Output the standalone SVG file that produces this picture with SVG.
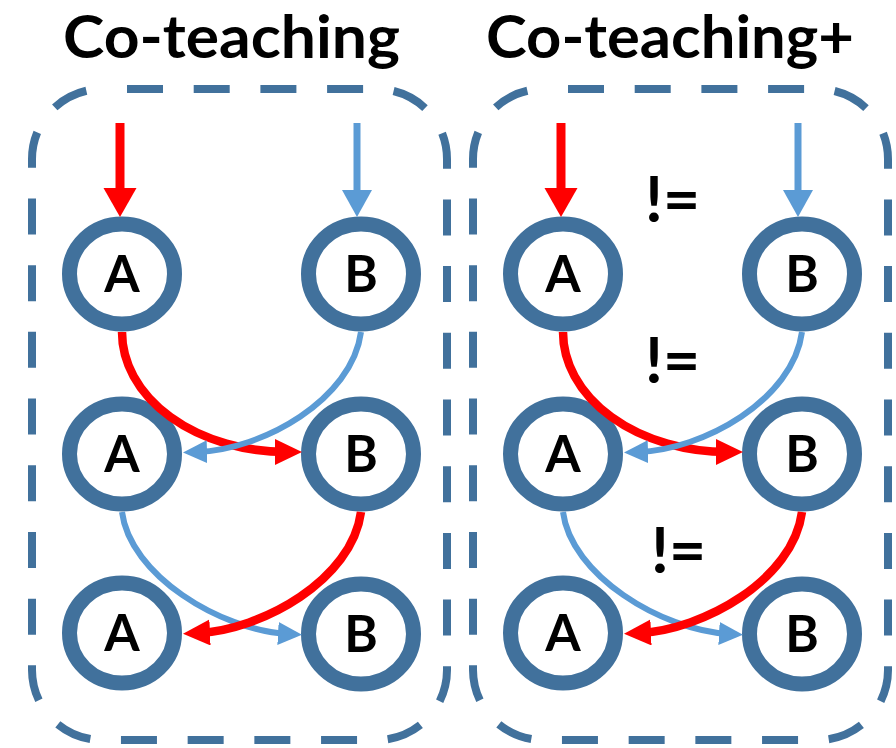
<svg xmlns="http://www.w3.org/2000/svg" width="896" height="748" viewBox="0 0 896 748">
<style>
.frame{fill:none;stroke:#41719C;stroke-width:8;stroke-dasharray:36 30.7;stroke-dashoffset:-25}
.ring{fill:#fff;stroke:#41719C;stroke-width:15}
.lbl{font-family:Lato,"Open Sans",sans-serif;font-weight:700;font-size:51px;fill:#000;text-anchor:middle}
.title{font-family:Lato,"Open Sans",sans-serif;font-weight:700;font-size:60px;fill:#000}
.ne{font-family:Lato,"Open Sans",sans-serif;font-weight:700;font-size:64px;fill:#000}
.red{fill:none;stroke:#FF0000;stroke-width:8.5}
.blue{fill:none;stroke:#5B9BD5;stroke-width:6}
.redin{fill:none;stroke:#FF0000;stroke-width:9}
.bluein{fill:none;stroke:#5B9BD5;stroke-width:7}
</style>
<defs>
<marker id="ri" markerUnits="userSpaceOnUse" markerWidth="30" markerHeight="34" refX="14" refY="16.5" orient="auto"><path d="M0,0 L29,16.5 L0,33 z" fill="#FF0000"/></marker>
<marker id="bi" markerUnits="userSpaceOnUse" markerWidth="28" markerHeight="31" refX="12" refY="15" orient="auto"><path d="M0,0 L27,15 L0,30 z" fill="#5B9BD5"/></marker>
<marker id="rc" markerUnits="userSpaceOnUse" markerWidth="28" markerHeight="27" refX="12" refY="13" orient="auto"><path d="M0,0 L27,13 L0,26 z" fill="#FF0000"/></marker>
<marker id="bc" markerUnits="userSpaceOnUse" markerWidth="25" markerHeight="24" refX="10" refY="11.5" orient="auto"><path d="M0,0 L24,11.5 L0,23 z" fill="#5B9BD5"/></marker>
</defs>
<g id="titles">
<text class="title" x="63" y="58" textLength="337" lengthAdjust="spacingAndGlyphs">Co-teaching</text>
<text class="title" x="486" y="58" textLength="368" lengthAdjust="spacingAndGlyphs">Co-teaching+</text>
</g>
<g id="frames">
<rect class="frame" x="32" y="89" width="415" height="651" rx="70" ry="70"/>
<rect class="frame" x="473" y="89" width="415" height="651" rx="70" ry="70"/>
</g>
<g id="nodes">
<g id="L-A1"><ellipse class="ring" cx="122" cy="274" rx="52.5" ry="50"/><text class="lbl" x="122" y="292">A</text></g>
<g id="L-B1"><ellipse class="ring" cx="361" cy="274" rx="52.5" ry="50"/><text class="lbl" x="361" y="292">B</text></g>
<g id="L-A2"><ellipse class="ring" cx="122" cy="454" rx="52.5" ry="50"/><text class="lbl" x="122" y="472">A</text></g>
<g id="L-B2"><ellipse class="ring" cx="361" cy="454" rx="52.5" ry="50"/><text class="lbl" x="361" y="472">B</text></g>
<g id="L-A3"><ellipse class="ring" cx="122" cy="633" rx="52.5" ry="50"/><text class="lbl" x="122" y="651">A</text></g>
<g id="L-B3"><ellipse class="ring" cx="361" cy="634" rx="52.5" ry="50"/><text class="lbl" x="361" y="652">B</text></g>
<g id="R-A1"><ellipse class="ring" cx="563" cy="274" rx="52.5" ry="50"/><text class="lbl" x="563" y="292">A</text></g>
<g id="R-B1"><ellipse class="ring" cx="802" cy="274" rx="52.5" ry="50"/><text class="lbl" x="802" y="292">B</text></g>
<g id="R-A2"><ellipse class="ring" cx="563" cy="454" rx="52.5" ry="50"/><text class="lbl" x="563" y="472">A</text></g>
<g id="R-B2"><ellipse class="ring" cx="802" cy="454" rx="52.5" ry="50"/><text class="lbl" x="802" y="472">B</text></g>
<g id="R-A3"><ellipse class="ring" cx="563" cy="633" rx="52.5" ry="50"/><text class="lbl" x="563" y="651">A</text></g>
<g id="R-B3"><ellipse class="ring" cx="802" cy="634" rx="52.5" ry="50"/><text class="lbl" x="802" y="652">B</text></g>
</g>
<g id="connectors">
<g id="left-conn">
<path class="redin" d="M120,123 V202" marker-end="url(#ri)"/>
<path class="bluein" d="M357,123 V202" marker-end="url(#bi)"/>
<path class="red" d="M122,332 A165,120 0 0 0 287,452" marker-end="url(#rc)"/>
<path class="blue" d="M361,332 C352,400 262,450 197,452" marker-end="url(#bc)"/>
<path class="blue" d="M122,512 C130,575 220,630 288,634" marker-end="url(#bc)"/>
<path class="red" d="M361,512 C352,580 262,630 198,633" marker-end="url(#rc)"/>
</g>
<g id="right-conn" transform="translate(441,0)">
<path class="redin" d="M120,123 V202" marker-end="url(#ri)"/>
<path class="bluein" d="M357,123 V202" marker-end="url(#bi)"/>
<path class="red" d="M122,332 A165,120 0 0 0 287,452" marker-end="url(#rc)"/>
<path class="blue" d="M361,332 C352,400 262,450 197,452" marker-end="url(#bc)"/>
<path class="blue" d="M122,512 C130,575 220,630 288,634" marker-end="url(#bc)"/>
<path class="red" d="M361,512 C352,580 262,630 198,633" marker-end="url(#rc)"/>
</g>
</g>
<g id="neq">
<text class="ne" x="645" y="222">!=</text>
<text class="ne" x="645" y="383">!=</text>
<text class="ne" x="651" y="573">!=</text>
</g>
</svg>
